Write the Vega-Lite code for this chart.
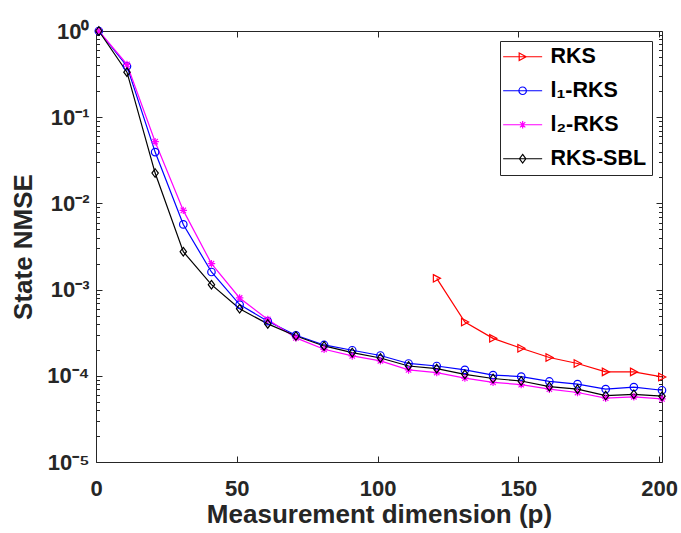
{
  "$schema": "https://vega.github.io/schema/vega-lite/v6.json",
  "width": 566,
  "height": 431,
  "autosize": "none",
  "padding": {"left": 96, "top": 31, "right": 19, "bottom": 71},
  "background": "white",
  "config": {
    "view": {"stroke": "#262626", "strokeWidth": 1},
    "font": "Liberation Sans"
  },
  "data": {
    "values": [
      {"p": 121, "method": "RKS", "nmse": 0.00135},
      {"p": 131, "method": "RKS", "nmse": 0.00042},
      {"p": 141, "method": "RKS", "nmse": 0.000272},
      {"p": 151, "method": "RKS", "nmse": 0.000209},
      {"p": 161, "method": "RKS", "nmse": 0.000163},
      {"p": 171, "method": "RKS", "nmse": 0.000139},
      {"p": 181, "method": "RKS", "nmse": 0.000111},
      {"p": 191, "method": "RKS", "nmse": 0.000111},
      {"p": 201, "method": "RKS", "nmse": 0.000097},

      {"p": 1, "method": "l₁-RKS", "nmse": 1.0},
      {"p": 11, "method": "l₁-RKS", "nmse": 0.39},
      {"p": 21, "method": "l₁-RKS", "nmse": 0.0394},
      {"p": 31, "method": "l₁-RKS", "nmse": 0.0057},
      {"p": 41, "method": "l₁-RKS", "nmse": 0.0016},
      {"p": 51, "method": "l₁-RKS", "nmse": 0.00067},
      {"p": 61, "method": "l₁-RKS", "nmse": 0.00043},
      {"p": 71, "method": "l₁-RKS", "nmse": 0.000295},
      {"p": 81, "method": "l₁-RKS", "nmse": 0.000228},
      {"p": 91, "method": "l₁-RKS", "nmse": 0.000198},
      {"p": 101, "method": "l₁-RKS", "nmse": 0.000172},
      {"p": 111, "method": "l₁-RKS", "nmse": 0.000139},
      {"p": 121, "method": "l₁-RKS", "nmse": 0.00013},
      {"p": 131, "method": "l₁-RKS", "nmse": 0.000117},
      {"p": 141, "method": "l₁-RKS", "nmse": 0.000102},
      {"p": 151, "method": "l₁-RKS", "nmse": 0.000098},
      {"p": 161, "method": "l₁-RKS", "nmse": 0.000086},
      {"p": 171, "method": "l₁-RKS", "nmse": 0.00008},
      {"p": 181, "method": "l₁-RKS", "nmse": 0.00007},
      {"p": 191, "method": "l₁-RKS", "nmse": 0.000074},
      {"p": 201, "method": "l₁-RKS", "nmse": 0.000068},

      {"p": 1, "method": "l₂-RKS", "nmse": 1.0},
      {"p": 11, "method": "l₂-RKS", "nmse": 0.41},
      {"p": 21, "method": "l₂-RKS", "nmse": 0.052},
      {"p": 31, "method": "l₂-RKS", "nmse": 0.0083},
      {"p": 41, "method": "l₂-RKS", "nmse": 0.002},
      {"p": 51, "method": "l₂-RKS", "nmse": 0.0008},
      {"p": 61, "method": "l₂-RKS", "nmse": 0.00045},
      {"p": 71, "method": "l₂-RKS", "nmse": 0.000275},
      {"p": 81, "method": "l₂-RKS", "nmse": 0.000203},
      {"p": 91, "method": "l₂-RKS", "nmse": 0.00017},
      {"p": 101, "method": "l₂-RKS", "nmse": 0.000149},
      {"p": 111, "method": "l₂-RKS", "nmse": 0.000117},
      {"p": 121, "method": "l₂-RKS", "nmse": 0.000109},
      {"p": 131, "method": "l₂-RKS", "nmse": 0.000094},
      {"p": 141, "method": "l₂-RKS", "nmse": 0.000084},
      {"p": 151, "method": "l₂-RKS", "nmse": 0.000079},
      {"p": 161, "method": "l₂-RKS", "nmse": 0.00007},
      {"p": 171, "method": "l₂-RKS", "nmse": 0.000064},
      {"p": 181, "method": "l₂-RKS", "nmse": 0.000055},
      {"p": 191, "method": "l₂-RKS", "nmse": 0.000057},
      {"p": 201, "method": "l₂-RKS", "nmse": 0.000054},

      {"p": 1, "method": "RKS-SBL", "nmse": 1.0},
      {"p": 11, "method": "RKS-SBL", "nmse": 0.333},
      {"p": 21, "method": "RKS-SBL", "nmse": 0.0225},
      {"p": 31, "method": "RKS-SBL", "nmse": 0.00275},
      {"p": 41, "method": "RKS-SBL", "nmse": 0.00114},
      {"p": 51, "method": "RKS-SBL", "nmse": 0.0006},
      {"p": 61, "method": "RKS-SBL", "nmse": 0.0004},
      {"p": 71, "method": "RKS-SBL", "nmse": 0.00029},
      {"p": 81, "method": "RKS-SBL", "nmse": 0.000222},
      {"p": 91, "method": "RKS-SBL", "nmse": 0.000186},
      {"p": 101, "method": "RKS-SBL", "nmse": 0.000161},
      {"p": 111, "method": "RKS-SBL", "nmse": 0.00013},
      {"p": 121, "method": "RKS-SBL", "nmse": 0.000121},
      {"p": 131, "method": "RKS-SBL", "nmse": 0.000104},
      {"p": 141, "method": "RKS-SBL", "nmse": 0.000093},
      {"p": 151, "method": "RKS-SBL", "nmse": 0.000087},
      {"p": 161, "method": "RKS-SBL", "nmse": 0.000075},
      {"p": 171, "method": "RKS-SBL", "nmse": 0.00007},
      {"p": 181, "method": "RKS-SBL", "nmse": 0.000059},
      {"p": 191, "method": "RKS-SBL", "nmse": 0.000061},
      {"p": 201, "method": "RKS-SBL", "nmse": 0.000058}
    ]
  },
  "encoding": {
    "x": {"field": "p", "type": "quantitative", "scale": {"domain": [0, 201], "nice": false, "zero": false}, "axis": null},
    "y": {"field": "nmse", "type": "quantitative", "scale": {"type": "log", "domain": [0.00001, 1], "nice": false}, "axis": null}
  },
  "layer": [
    {
      "mark": {"type": "line", "strokeWidth": 1.2},
      "encoding": {
        "x": {
          "field": "p", "type": "quantitative",
          "axis": {
            "orient": "bottom",
            "values": [0, 50, 100, 150, 200],
            "format": "d",
            "title": "Measurement dimension (p)",
            "domain": false, "grid": false,
            "tickSize": -6, "tickColor": "#262626", "tickWidth": 1,
            "labelFont": "Liberation Sans", "labelFontSize": 22, "labelFontWeight": "bold",
            "labelColor": "#262626", "labelPadding": 22, "labelFlush": false, "labelOverlap": false,
            "titleFont": "Liberation Sans", "titleFontSize": 26, "titleFontWeight": "bold",
            "titleColor": "#262626", "titlePadding": 2
          }
        },
        "y": {
          "field": "nmse", "type": "quantitative",
          "axis": {
            "orient": "left",
            "values": [0.00001, 0.00002, 0.00003, 0.00004, 0.00005, 0.00006, 0.00007, 0.00008, 0.00009,
                       0.0001, 0.0002, 0.0003, 0.0004, 0.0005, 0.0006, 0.0007, 0.0008, 0.0009,
                       0.001, 0.002, 0.003, 0.004, 0.005, 0.006, 0.007, 0.008, 0.009,
                       0.01, 0.02, 0.03, 0.04, 0.05, 0.06, 0.07, 0.08, 0.09,
                       0.1, 0.2, 0.3, 0.4, 0.5, 0.6, 0.7, 0.8, 0.9, 1],
            "labelExpr": "abs(log(datum.value)/LN10 - round(log(datum.value)/LN10)) < 0.000001 ? ['10⁰','10⁻¹','10⁻²','10⁻³','10⁻⁴','10⁻⁵'][-round(log(datum.value)/LN10)] : ''",
            "title": "State NMSE",
            "domain": false, "grid": false,
            "tickSize": {"condition": {"test": "abs(log(datum.value)/LN10 - round(log(datum.value)/LN10)) < 0.000001", "value": -6}, "value": -3.5},
            "tickColor": "#262626", "tickWidth": 1,
            "labelFont": "Liberation Sans", "labelFontSize": 22, "labelFontWeight": "bold",
            "labelColor": "#262626", "labelPadding": 13, "labelFlush": false, "labelOverlap": false,
            "titleFont": "Liberation Sans", "titleFontSize": 26, "titleFontWeight": "bold",
            "titleColor": "#262626", "titlePadding": 10
          }
        },
        "color": {
          "field": "method", "type": "nominal",
          "scale": {"domain": ["RKS", "l₁-RKS", "l₂-RKS", "RKS-SBL"], "range": ["#ff0000", "#0000ff", "#ff00ff", "#000000"]},
          "legend": {
            "title": null,
            "orient": "top-right",
            "offset": 10,
            "strokeColor": "#262626",
            "fillColor": "white",
            "padding": 5,
            "cornerRadius": 0,
            "labelFont": "Liberation Sans", "labelFontSize": 21.5, "labelFontWeight": "bold",
            "labelColor": "#000000", "labelOffset": 24,
            "symbolSize": 256, "symbolStrokeWidth": 1.2, "symbolType": "stroke",
            "rowPadding": 11,
            "encode": {
              "symbols": {
                "update": {
                  "shape": {"signal": "datum.value === 'RKS' ? 'M-1.575,0H3.3M0.43,-0.4675L1.3,0L0.43,0.4675Z' : datum.value === 'RKS-SBL' ? 'M-1.575,0H3.3M0.8625,-0.54L1.26,0L0.8625,0.54L0.465,0Z' : datum.value === 'l₂-RKS' ? 'M-1.575,0H3.3M0.395,0H1.33M0.8625,-0.4675V0.4675M0.53,-0.33L1.195,0.33M0.53,0.33L1.195,-0.33' : 'M-1.575,0H3.3M0.395,0A0.4675,0.4675 0 1,0 1.33,0A0.4675,0.4675 0 1,0 0.395,0Z'"},
                  "fill": {"value": "transparent"}
                }
              }
            }
          }
        }
      }
    },
    {
      "transform": [{"filter": "datum.method === 'RKS'"}],
      "mark": {"type": "point", "filled": false, "size": 56, "strokeWidth": 1.2, "opacity": 1, "color": "#ff0000", "shape": "M-0.9,-1L1,0L-0.9,1Z"},
      "encoding": {
        "x": {
          "field": "p", "type": "quantitative",
          "axis": {
            "orient": "top", "values": [0, 50, 100, 150, 200], "labels": false, "title": null,
            "domain": false, "grid": false, "tickSize": -6, "tickColor": "#262626", "tickWidth": 1
          }
        },
        "y": {
          "field": "nmse", "type": "quantitative",
          "axis": {
            "orient": "right",
            "values": [0.00001, 0.00002, 0.00003, 0.00004, 0.00005, 0.00006, 0.00007, 0.00008, 0.00009,
                       0.0001, 0.0002, 0.0003, 0.0004, 0.0005, 0.0006, 0.0007, 0.0008, 0.0009,
                       0.001, 0.002, 0.003, 0.004, 0.005, 0.006, 0.007, 0.008, 0.009,
                       0.01, 0.02, 0.03, 0.04, 0.05, 0.06, 0.07, 0.08, 0.09,
                       0.1, 0.2, 0.3, 0.4, 0.5, 0.6, 0.7, 0.8, 0.9, 1],
            "labels": false, "title": null, "domain": false, "grid": false,
            "tickSize": {"condition": {"test": "abs(log(datum.value)/LN10 - round(log(datum.value)/LN10)) < 0.000001", "value": -6}, "value": -3.5},
            "tickColor": "#262626", "tickWidth": 1
          }
        }
      }
    },
    {
      "transform": [{"filter": "datum.method === 'l₁-RKS'"}],
      "mark": {"type": "point", "filled": false, "size": 56, "strokeWidth": 1.2, "opacity": 1, "color": "#0000ff", "shape": "M-1,0A1,1 0 1,0 1,0A1,1 0 1,0 -1,0Z"}
    },
    {
      "transform": [{"filter": "datum.method === 'l₂-RKS'"}],
      "mark": {"type": "point", "filled": false, "size": 56, "strokeWidth": 1.2, "opacity": 1, "color": "#ff00ff", "shape": "M-1,0H1M0,-1V1M-0.72,-0.72L0.72,0.72M-0.72,0.72L0.72,-0.72"}
    },
    {
      "transform": [{"filter": "datum.method === 'RKS-SBL'"}],
      "mark": {"type": "point", "filled": false, "size": 56, "strokeWidth": 1.2, "opacity": 1, "color": "#000000", "shape": "M0,-1.15L0.85,0L0,1.15L-0.85,0Z"}
    }
  ]
}
